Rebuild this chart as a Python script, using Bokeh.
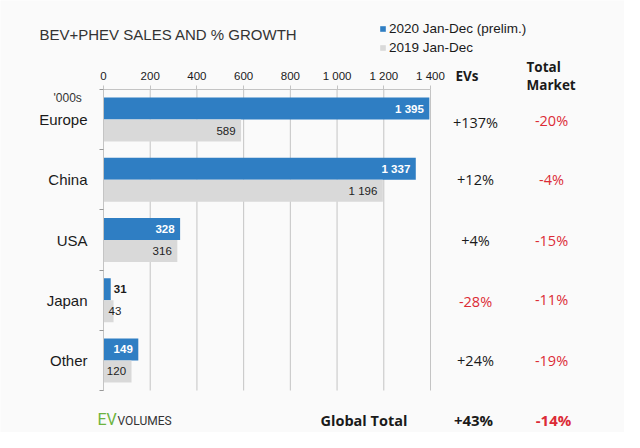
from bokeh.plotting import figure
from bokeh.models import Range1d, FixedTicker, Legend, LegendItem, ColumnDataSource
from bokeh.core.properties import value
from bokeh.embed import file_html
from bokeh.resources import INLINE

# ---------------- data ----------------
regions = ["Europe", "China", "USA", "Japan", "Other"]
sales_2020 = [1395, 1337, 328, 31, 149]
sales_2019 = [589, 1196, 316, 43, 120]
ev_growth = ["+137%", "+12%", "+4%", "-28%", "+24%"]
market_growth = ["-20%", "-4%", "-15%", "-11%", "-19%"]
x_ticks = [0, 200, 400, 600, 800, 1000, 1200, 1400]
x_tick_labels = ["0", "200", "400", "600", "800", "1 000", "1 200", "1 400"]
series_names = ["2020 Jan-Dec (prelim.)", "2019 Jan-Dec"]
global_label = "Global Total"
global_ev = "+43%"
global_market = "-14%"
unit_label = "'000s"
title_text = "BEV+PHEV SALES AND % GROWTH"

# ---------------- style ----------------
BLUE = "#2F7EC3"
GREY = "#D9D9D9"
RED = "#DC2B36"
GRID = "#C4C4C4"
BG = "#FAFAFA"
TXT = "#1A1A1A"
ARIAL = "Liberation Sans"
SEGOE = "Open Sans"

W, H = 624, 432
A_LEFT, A_RIGHT, A_TOP, A_BOTTOM = 103, 430, 89, 390  # bar area in canvas px
n = len(regions)
x_max = x_ticks[-1]
px_x = (A_RIGHT - A_LEFT) / x_max
px_y = (A_BOTTOM - A_TOP) / n


def dx(cx):
    return (cx - A_LEFT) / px_x


def dy(cy):
    return (cy - A_TOP) / px_y


p = figure(width=W, height=H,
           x_range=Range1d(dx(0), dx(W)), y_range=Range1d(dy(H), dy(0)),
           x_axis_location="above", output_backend="svg", toolbar_location=None,
           min_border=0)
p.outline_line_color = None
p.background_fill_color = BG
p.border_fill_color = BG
p.xgrid.grid_line_color = None
p.ygrid.grid_line_color = None

# x axis (top), drawn inside the frame at the top of the bar area
xa = p.xaxis[0]
xa.fixed_location = 0
xa.bounds = (0, x_max)
xa.ticker = FixedTicker(ticks=x_ticks)
xa.major_label_overrides = dict(zip(x_ticks, x_tick_labels))
xa.axis_line_color = GRID
xa.major_tick_line_color = GRID
xa.major_tick_out = 4
xa.major_tick_in = 0
xa.minor_tick_line_color = None
xa.major_label_text_font = ARIAL
xa.major_label_text_font_size = "11.5px"
xa.major_label_text_color = TXT
xa.major_label_standoff = 4

# y axis (left)
ya = p.yaxis[0]
ya.fixed_location = 0
ya.bounds = (0, n)
centers = [i + 0.5 for i in range(n)]
ya.ticker = FixedTicker(ticks=centers, minor_ticks=list(range(n + 1)))
ya.major_label_overrides = dict(zip(centers, regions))
ya.axis_line_color = GRID
ya.major_tick_line_color = None
ya.major_tick_out = 0
ya.major_tick_in = 0
ya.minor_tick_line_color = "#999999"
ya.minor_tick_out = 4
ya.minor_tick_in = 0
ya.major_label_text_font = ARIAL
ya.major_label_text_font_size = "15px"
ya.major_label_text_color = TXT
ya.major_label_standoff = 12

# vertical grid lines over the bar area
p.segment(x0=x_ticks, y0=[0] * len(x_ticks), x1=x_ticks, y1=[n] * len(x_ticks),
          line_color=GRID, line_width=1)

# bars
bar_h = 22 / px_y
off = 11 / px_y
y20 = [c - off for c in centers]
y19 = [c + off for c in centers]
src20 = ColumnDataSource(dict(y=y20, v=sales_2020))
src19 = ColumnDataSource(dict(y=y19, v=sales_2019))
r20 = p.hbar(y="y", right="v", left=0, height=bar_h, source=src20,
             fill_color=BLUE, line_color=None)
r19 = p.hbar(y="y", right="v", left=0, height=bar_h, source=src19,
             fill_color=GREY, line_color=None)

# value labels
MIN_IN = 25  # px a bar needs to hold its label inside
for vals, ys, inside_color, bold in ((sales_2020, y20, "white", True),
                                     (sales_2019, y19, "#222222", False)):
    for v, y in zip(vals, ys):
        s = f"{v:,}".replace(",", " ")
        if v * px_x >= MIN_IN:
            kw = dict(x=[v], x_offset=-5.5, text_align="right", text_color=inside_color)
        elif bold:
            kw = dict(x=[v], x_offset=3, text_align="left", text_color=TXT)
        else:
            kw = dict(x=[0], x_offset=5, text_align="left", text_color="#222222")
        p.text(y=[y], text=[s], text_baseline="middle",
               text_font=value(ARIAL), text_font_size="11.5px",
               text_font_style="bold" if bold else "normal", **kw)


def lab(text, x, y, size, font=ARIAL, color=TXT, align="left", style="normal"):
    p.text(x=[x], y=[y], text=[text], text_font=value(font), text_font_size=size,
           text_color=color, text_align=align, text_baseline="middle",
           text_font_style=style)


lab(title_text, dx(39), dy(33.5), "15px", color="#333333")
lab(unit_label, dx(53), dy(97), "12px", color="#333333")
lab("EVs", dx(455), dy(75), "13.5px", font=SEGOE, style="bold")
lab("Total", dx(526), dy(66), "13.5px", font=SEGOE, style="bold")
lab("Market", dx(526), dy(84), "13.5px", font=SEGOE, style="bold")

row_shift = [3, 0, 0, 1, 0]  # small vertical nudges (px) seen in the reference
for c, g, m, s in zip(centers, ev_growth, market_growth, row_shift):
    yy = c + s / px_y
    lab(g, dx(475), yy, "14.5px", font=SEGOE, align="center",
        color=RED if g.startswith("-") else TXT)
    lab(m, dx(551), yy - 2 / px_y if s else yy, "14.5px", font=SEGOE, align="center",
        color=RED if m.startswith("-") else TXT)

BOT = 420
lab("EV", dx(97), dy(BOT - 1), "16px", font="Roboto", color="#6DB33F")
lab("VOLUMES", dx(117), dy(BOT + 0.5), "12px", font="Roboto", color="#333333")
lab(global_label, dx(320), dy(BOT), "14.5px", font=SEGOE, style="bold")
lab(global_ev, dx(473), dy(BOT - 1), "15px", font=SEGOE, style="bold", align="center")
lab(global_market, dx(553), dy(BOT - 1), "15px", font=SEGOE, style="bold", align="center",
    color=RED if global_market.startswith("-") else TXT)

# legend
legend = Legend(items=[LegendItem(label=series_names[0], renderers=[r20]),
                       LegendItem(label=series_names[1], renderers=[r19])],
                location=(379, H - 55),
                glyph_width=7, glyph_height=7, label_standoff=3,
                label_height=16, spacing=3, padding=0, margin=0,
                border_line_color=None, background_fill_alpha=0,
                label_text_font=ARIAL, label_text_font_size="13.5px",
                label_text_color=TXT)
p.add_layout(legend, "center")

open("out.html", "w").write(file_html(p, INLINE))
